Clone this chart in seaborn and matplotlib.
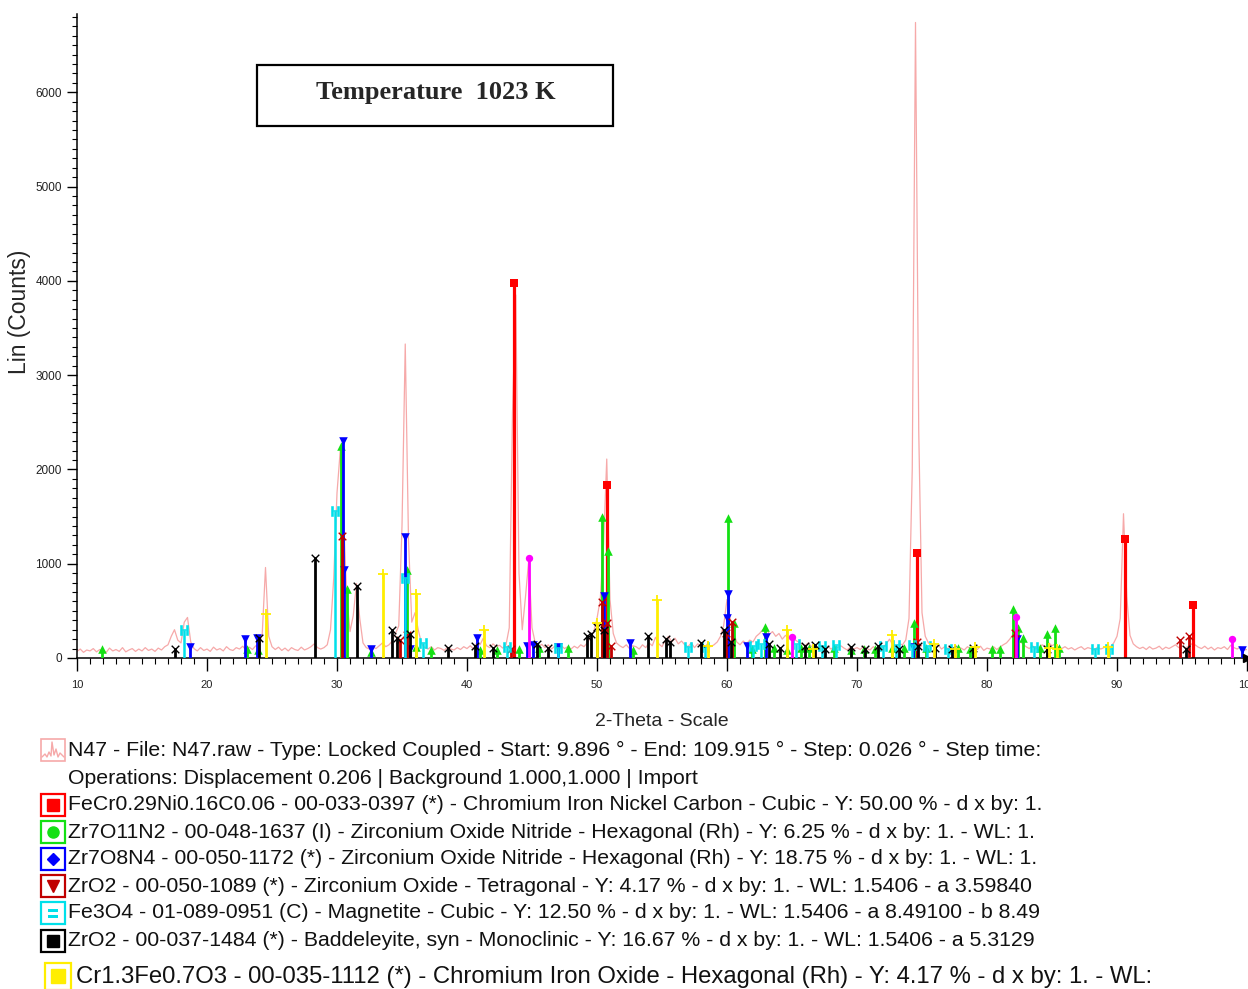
import numpy as np
import matplotlib
matplotlib.use("Agg")
import matplotlib.pyplot as plt
import seaborn as sns
import pandas as pd
from matplotlib.patches import Rectangle
from matplotlib.lines import Line2D
from matplotlib.ticker import MultipleLocator

sns.set_theme(style="white")
plt.rcParams["font.family"] = ["Liberation Sans", "DejaVu Sans"]

# ---------------- data ----------------
theta_start, theta_step = 10.0, 0.25
counts = [
    70, 95, 60, 85, 75, 100, 65, 90, 80, 60, 105, 75, 90, 70, 110, 65, 85, 100, 70, 95,      # 10-15
    75, 110, 80, 95, 70, 105, 85, 120, 140, 230, 300, 190, 160, 380, 430, 170, 100, 75, 110, 80,  # 15-20
    95, 70, 115, 85, 100, 75, 120, 90, 80, 110, 95, 125, 85, 115, 90, 130, 110, 260, 960, 230,  # 20-25
    120, 90, 115, 80, 105, 75, 110, 90, 80, 115, 85, 100, 120, 150, 110, 95, 110, 140, 300, 850,  # 25-30
    1750, 2200, 1500, 650, 280, 450, 790, 420, 160, 110, 95, 120, 100, 130, 160, 120, 140, 180, 260, 340,  # 30-35
    1400, 3330, 1250, 380, 480, 300, 150, 110, 95, 120, 85, 110, 100, 80, 115, 95, 85, 110, 90, 120,  # 35-40
    100, 130, 95, 160, 140, 210, 130, 110, 150, 120, 135, 105, 140, 320, 2600, 3850, 900, 300, 650, 1040,  # 40-45
    320, 160, 120, 145, 110, 140, 95, 125, 105, 130, 100, 120, 95, 125, 105, 140, 120, 160, 210, 280,  # 45-50
    420, 620, 1200, 2110, 620, 260, 160, 130, 110, 140, 100, 130, 120, 95, 140, 110, 160, 130, 220, 150,  # 50-55
    120, 190, 230, 170, 210, 150, 180, 140, 120, 160, 110, 150, 130, 110, 150, 120, 140, 170, 230, 350,  # 55-60
    620, 420, 260, 170, 140, 180, 150, 190, 170, 230, 260, 300, 330, 250, 280, 230, 260, 200, 240, 210,  # 60-65
    250, 190, 170, 150, 130, 160, 120, 140, 110, 135, 100, 125, 95, 120, 110, 130, 105, 85, 120, 95,  # 65-70
    110, 90, 125, 100, 85, 120, 95, 130, 110, 150, 200, 140, 120, 150, 140, 190, 420, 2000, 6740, 2400,  # 70-75
    480, 230, 160, 130, 110, 140, 95, 120, 100, 130, 90, 115, 105, 85, 120, 95, 110, 90, 125, 80,  # 75-80
    105, 95, 120, 90, 115, 140, 160, 200, 250, 220, 180, 150, 120, 100, 130, 95, 115, 140, 120, 160,  # 80-85
    130, 150, 115, 100, 120, 95, 110, 85, 105, 120, 90, 110, 100, 85, 115, 95, 110, 130, 120, 160,  # 85-90
    230, 420, 1530, 650, 240, 150, 120, 100, 115, 90, 120, 95, 105, 125, 90, 115, 100, 120, 140, 110,  # 90-95
    130, 105, 125, 150, 140, 115, 100, 125, 95, 115, 85, 110, 100, 120, 90, 135, 110, 95, 120, 85,  # 95-100
    90,
]
two_theta = theta_start + theta_step * np.arange(len(counts))

red_pos = [43.65, 50.78, 74.62, 90.58, 95.87]
red_h = [3980, 1840, 1110, 1260, 560]

green_pos = [11.9, 23.1, 23.9, 30.3, 30.75, 32.6, 35.35, 36.1, 37.2, 41.0, 42.3, 44.0, 45.5, 47.8,
             50.4, 50.85, 52.8, 60.1, 60.5, 61.9, 62.9, 63.6, 64.6, 65.7, 66.3, 68.2, 69.5, 70.5,
             71.4, 72.7, 73.6, 74.4, 75.3, 77.8, 78.7, 80.4, 81.0, 82.0, 82.4, 82.8, 84.1, 84.6,
             85.2, 85.5]
green_h = [100, 100, 90, 2250, 730, 60, 930, 120, 90, 90, 90, 100, 110, 110,
           1500, 1130, 90, 1480, 370, 100, 330, 110, 90, 110, 110, 110, 90, 100,
           100, 110, 110, 370, 110, 110, 100, 100, 100, 520, 320, 210, 110, 250,
           320, 110]

blue_pos = [18.7, 22.9, 23.85, 30.45, 30.55, 32.6, 35.2, 35.6, 40.8, 44.6, 45.1, 47.0, 50.55,
            52.55, 60.1, 60.0, 61.5, 63.0, 74.3, 82.3, 99.6]
blue_h = [120, 200, 210, 2300, 930, 100, 1280, 100, 210, 130, 140, 120, 660,
          160, 680, 420, 130, 220, 120, 200, 80]

darkred_pos = [30.35, 34.85, 35.35, 43.4, 50.35, 50.75, 51.1, 59.95, 60.4, 74.6, 82.15, 94.85, 95.5]
darkred_h = [1290, 190, 240, 100, 590, 370, 130, 270, 380, 170, 270, 190, 230]

cyan_pos = [18.25, 29.85, 35.2, 36.65, 43.1, 47.0, 57.0, 58.3, 62.0, 62.6, 65.3, 67.3, 68.4,
            72.0, 73.0, 74.2, 75.4, 77.0, 83.6, 88.3, 89.4]
cyan_h = [300, 1560, 850, 160, 120, 110, 120, 120, 130, 150, 150, 130, 140,
          130, 140, 140, 130, 100, 120, 100, 100]

black_pos = [17.5, 24.0, 28.3, 31.5, 34.25, 34.6, 35.6, 38.5, 40.6, 42.0, 45.4, 46.2, 49.2,
             49.5, 50.0, 50.55, 53.9, 55.3, 55.6, 58.0, 59.8, 60.3, 63.2, 64.1, 66.0, 66.8,
             67.5, 69.5, 70.6, 71.6, 73.2, 74.7, 76.0, 77.3, 78.9, 84.6, 95.3]
black_h = [100, 210, 1060, 760, 300, 210, 250, 110, 130, 110, 150, 110, 230,
           250, 330, 300, 230, 200, 170, 160, 300, 170, 150, 110, 130, 140,
           100, 120, 100, 130, 100, 130, 110, 100, 110, 100, 100]

yellow_pos = [24.5, 33.55, 36.1, 41.3, 50.0, 54.6, 58.5, 64.6, 66.6, 72.7, 75.9, 77.5, 79.1, 84.8, 85.4, 89.3]
yellow_h = [470, 890, 680, 300, 370, 615, 130, 300, 100, 240, 150, 100, 120, 110, 100, 120]

magenta_pos = [44.75, 65.0, 82.2, 98.85]
magenta_h = [1060, 220, 430, 200]

legend_texts = [
    "N47 - File: N47.raw - Type: Locked Coupled - Start: 9.896 \u00b0 - End: 109.915 \u00b0 - Step: 0.026 \u00b0 - Step time:",
    "Operations: Displacement 0.206 | Background 1.000,1.000 | Import",
    "FeCr0.29Ni0.16C0.06 - 00-033-0397 (*) - Chromium Iron Nickel Carbon - Cubic - Y: 50.00 % - d x by: 1.",
    "Zr7O11N2 - 00-048-1637 (I) - Zirconium Oxide Nitride - Hexagonal (Rh) - Y: 6.25 % - d x by: 1. - WL: 1.",
    "Zr7O8N4 - 00-050-1172 (*) - Zirconium Oxide Nitride - Hexagonal (Rh) - Y: 18.75 % - d x by: 1. - WL: 1.",
    "ZrO2 - 00-050-1089 (*) - Zirconium Oxide - Tetragonal - Y: 4.17 % - d x by: 1. - WL: 1.5406 - a 3.59840",
    "Fe3O4 - 01-089-0951 (C) - Magnetite - Cubic - Y: 12.50 % - d x by: 1. - WL: 1.5406 - a 8.49100 - b 8.49",
    "ZrO2 - 00-037-1484 (*) - Baddeleyite, syn - Monoclinic - Y: 16.67 % - d x by: 1. - WL: 1.5406 - a 5.3129",
    "Cr1.3Fe0.7O3 - 00-035-1112 (*) - Chromium Iron Oxide - Hexagonal (Rh) - Y: 4.17 % - d x by: 1. - WL:",
]

# ---------------- figure ----------------
W, H = 1248, 989
fig = plt.figure(figsize=(W / 100, H / 100), dpi=100)
fig.patch.set_facecolor("white")


def fx(px):
    return px / W


def fy(py):
    return 1 - py / H


ax = fig.add_axes([fx(77), fy(658), fx(1247) - fx(77), fy(14) - fy(658)])
ax.set_facecolor("white")

PINK = "#f6a9a9"
df = pd.DataFrame({"two_theta": two_theta, "counts": counts})
sns.lineplot(data=df, x="two_theta", y="counts", color=PINK, lw=0.9, ax=ax, zorder=1)

phases = [
    (red_pos, red_h, "#ff0000", "s", 2.3, 32, 0),
    (green_pos, green_h, "#14e014", "^", 2.0, 38, 0),
    (blue_pos, blue_h, "#0000ff", "v", 2.0, 38, 0),
    (darkred_pos, darkred_h, "#c00000", "x", 2.0, 30, 1.0),
    (cyan_pos, cyan_h, "#00e0ea", "$\\mathsf{H}$", 1.8, 45, 0.4),
    (black_pos, black_h, "#000000", "x", 2.0, 30, 1.0),
    (yellow_pos, yellow_h, "#ffee00", "+", 2.0, 60, 1.3),
    (magenta_pos, magenta_h, "#ff00ff", "o", 2.0, 28, 0),
]
for i, (pos, hts, col, mk, lw, s, mlw) in enumerate(phases):
    ax.vlines(pos, 0, hts, color=col, lw=lw, zorder=2 + i)
    pdf = pd.DataFrame({"pos": pos, "h": hts})
    if mk in ("x", "+"):
        sns.scatterplot(data=pdf, x="pos", y="h", marker=mk, color=col, s=s,
                        linewidth=mlw, ax=ax, zorder=3 + i)
    else:
        sns.scatterplot(data=pdf, x="pos", y="h", marker=mk, color=col, s=s,
                        linewidth=mlw, edgecolor=col, ax=ax, zorder=3 + i)

ax.set_xlim(10, 100)
ax.set_ylim(0, 6830)
ax.set_xlabel("")
ax.set_ylabel("")
ax.xaxis.set_major_locator(MultipleLocator(10))
ax.xaxis.set_minor_locator(MultipleLocator(1))
ax.yaxis.set_major_locator(MultipleLocator(1000))
ax.yaxis.set_minor_locator(MultipleLocator(100))
ax.tick_params(axis="x", which="major", direction="out", length=9, width=1, color="black",
               labelsize=8, pad=7, bottom=True)
ax.tick_params(axis="x", which="minor", direction="out", length=4.5, width=0.8, color="black", bottom=True)
ax.tick_params(axis="y", which="major", direction="out", length=7, width=1, color="black",
               labelsize=8.5, pad=4, left=True)
ax.tick_params(axis="y", which="minor", direction="out", length=3.5, width=0.8, color="black", left=True)
for lab in ax.get_xticklabels() + ax.get_yticklabels():
    lab.set_color("#222222")
for side in ("top", "right"):
    ax.spines[side].set_visible(False)
for side in ("left", "bottom"):
    ax.spines[side].set_color("black")
    ax.spines[side].set_linewidth(1.1)
ax.grid(False)
ax.plot([1.0], [0.0], marker=">", color="black", ms=6, transform=ax.transAxes, clip_on=False, zorder=20)

# axis titles
fig.text(fx(662), fy(722), "2-Theta - Scale", ha="center", va="center", fontsize=14)
fig.text(fx(20), fy(312), "Lin (Counts)", ha="center", va="center", rotation=90, fontsize=16.5)

# temperature box
fig.add_artist(Rectangle((fx(257), fy(126)), fx(613) - fx(257), fy(65) - fy(126),
                         fill=False, ec="black", lw=1.6, transform=fig.transFigure))
fig.text(fx(436), fy(93), "Temperature  1023 K", ha="center", va="center",
         family="Liberation Serif", weight="bold", fontsize=19)

# legend
line_y = [750, 778, 805, 832, 859, 886, 913, 941]
for t, yy in zip(legend_texts[:8], line_y):
    fig.text(fx(68), fy(yy), t, ha="left", va="center", fontsize=15.3, color="#111111")
fig.text(fx(76), fy(977), legend_texts[8], ha="left", va="center", fontsize=17.2, color="#111111")

# legend icons
def box(cx, cy, w, h, col, lw=1.6):
    fig.add_artist(Rectangle((fx(cx - w / 2), fy(cy + h / 2)), fx(w), h / H,
                             fill=False, ec=col, lw=lw, transform=fig.transFigure))


def inner(cx, cy, mk, col, ms):
    fig.add_artist(Line2D([fx(cx)], [fy(cy)], marker=mk, color=col, ms=ms, mec=col,
                          transform=fig.transFigure))

# N47 pattern icon
box(53, 750, 24, 22, PINK, lw=1.2)
zig_x = [42, 45, 47, 49, 51, 52, 54, 56, 58, 60, 64]
zig_y = [757, 754, 757, 752, 756, 742, 755, 749, 757, 753, 757]
fig.add_artist(Line2D([fx(v) for v in zig_x], [fy(v) for v in zig_y], color=PINK, lw=1.0,
                      transform=fig.transFigure))

icon_specs = [
    ("#ff0000", "s", 8),
    ("#14e014", "o", 8),
    ("#0000ff", "D", 6),
    ("#c00000", "v", 9),
    ("#00e0ea", None, 0),
    ("#000000", "s", 8),
]
for (col, mk, ms), yy in zip(icon_specs, line_y[2:]):
    box(53, yy, 24, 22, col)
    if mk is not None:
        inner(53, yy, mk, col, ms)
    else:
        for dy in (-3, 3):
            fig.add_artist(Rectangle((fx(48), fy(yy + dy + 1.5)), fx(10), 3 / H,
                                     fc=col, ec="none", transform=fig.transFigure))
box(58, 976, 26, 27, "#ffee00")
inner(58, 976, "s", "#ffee00", 10)

fig.savefig("out.png", dpi=100, facecolor="white")
